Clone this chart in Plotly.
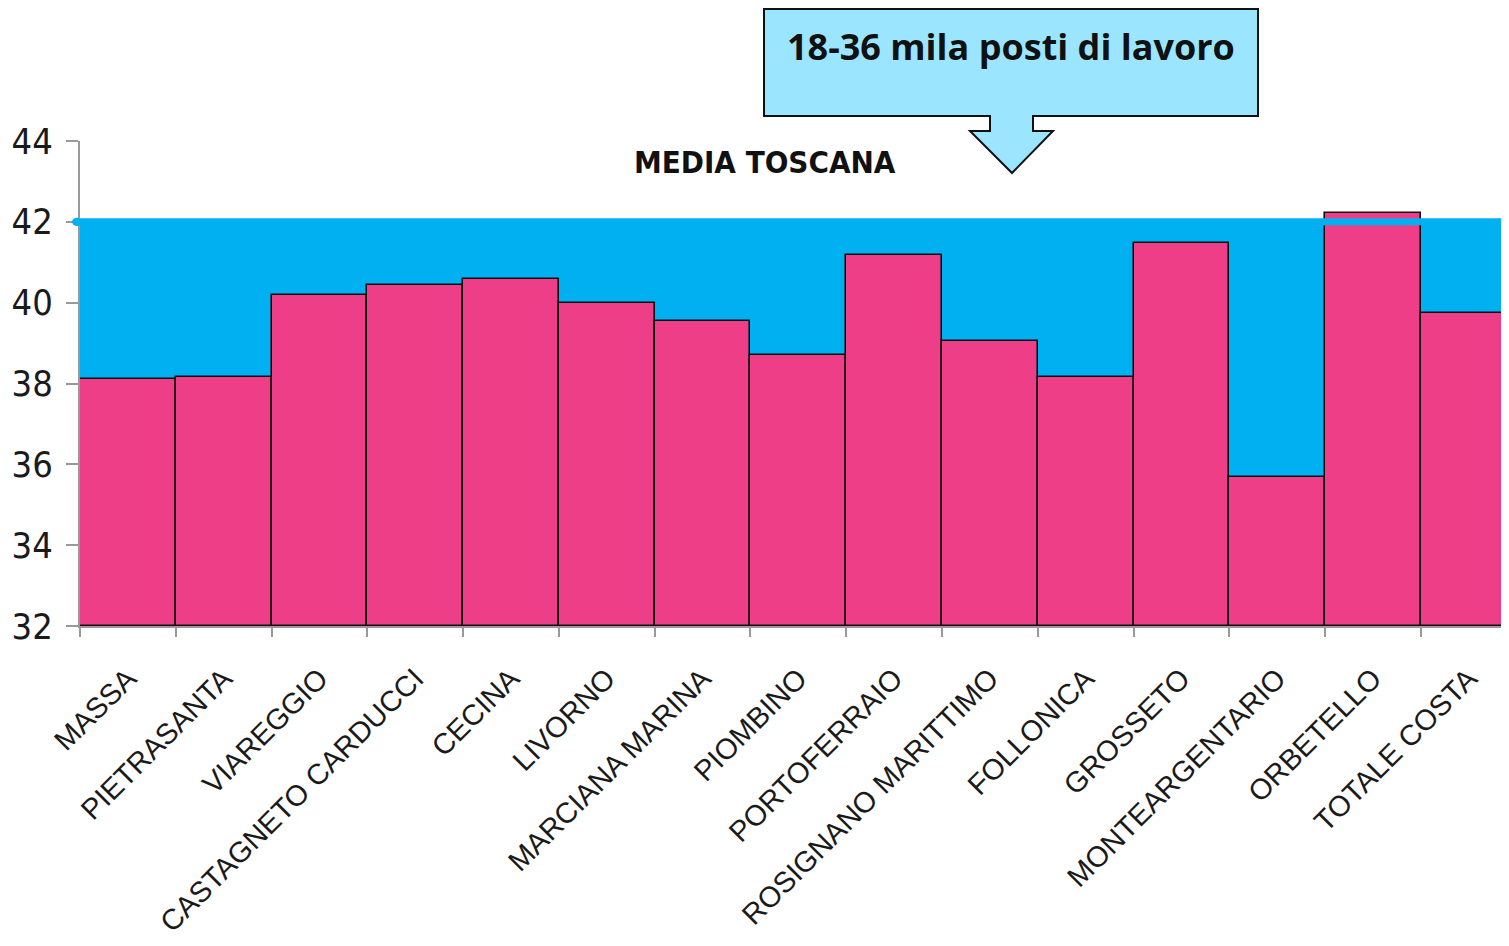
import plotly.graph_objects as go

# Comuni della costa toscana e valori
comuni = ["MASSA", "PIETRASANTA", "VIAREGGIO", "CASTAGNETO CARDUCCI", "CECINA",
          "LIVORNO", "MARCIANA MARINA", "PIOMBINO", "PORTOFERRAIO",
          "ROSIGNANO MARITTIMO", "FOLLONICA", "GROSSETO", "MONTEARGENTARIO",
          "ORBETELLO", "TOTALE COSTA"]
valori = [38.11, 38.16, 40.19, 40.44, 40.59, 39.99, 39.55, 38.71, 41.18,
          39.05, 38.16, 41.48, 35.69, 42.22, 39.74]
media_toscana = 42.0
y_ticks = [32, 34, 36, 38, 40, 42, 44]

# la pagina ha un margine di 8px attorno al grafico
W, H = 1501, 930
ML, MT, MB = 72, 133, 312
PW, PH = W - ML, H - MT - MB

pink = "#EF3E88"
blue = "#00B0F0"
narrow = "DejaVu Sans Condensed, Liberation Sans Narrow, Arial Narrow"


def px(x):
    return (x - 80) / PW


def py(y):
    return (626 - y) / PH


fig = go.Figure()

fig.add_trace(go.Bar(
    x=comuni, y=[v - 32 for v in valori], base=32,
    marker=dict(color=pink, line=dict(color="#111111", width=1.6)),
    showlegend=False, hoverinfo="skip",
))

shapes = []
# area media toscana (sotto le barre)
shapes.append(dict(type="rect", xref="paper", yref="y", x0=0, x1=1,
                   y0=32, y1=media_toscana, fillcolor=blue,
                   line=dict(width=0), layer="below"))
# linea media toscana (sopra le barre)
shapes.append(dict(type="line", xref="paper", yref="y", x0=0, x1=1,
                   y0=media_toscana, y1=media_toscana,
                   line=dict(color=blue, width=7), layer="above"))
shapes.append(dict(type="circle", xref="paper", yref="y",
                   x0=px(72), x1=px(82), y0=media_toscana - 0.1,
                   y1=media_toscana + 0.1, fillcolor=blue,
                   line=dict(width=0)))

# callout con freccia
pts = [(764, 9), (1258, 9), (1258, 116), (1033, 116), (1033, 131),
       (1053, 131), (1012, 173), (970, 131), (990, 131), (990, 116),
       (764, 116)]
path = "M " + " L ".join(f"{px(a):.5f},{py(b):.5f}" for a, b in pts) + " Z"
shapes.append(dict(type="path", xref="paper", yref="paper", path=path,
                   fillcolor="#9BE5FF", line=dict(color="#111111", width=2)))

fig.update_layout(
    width=W, height=H,
    margin=dict(l=ML, r=0, t=MT, b=MB),
    plot_bgcolor="white", paper_bgcolor="white",
    bargap=0,
    shapes=shapes,
    annotations=[
        dict(text="<b>18-36 mila posti di lavoro</b>", xref="paper", yref="paper",
             x=px(1011), y=py(46), xanchor="center", yanchor="middle",
             showarrow=False,
             font=dict(family="Open Sans", size=36, color="#111111")),
        dict(text="<b>MEDIA TOSCANA</b>", xref="paper", yref="paper",
             x=px(765), y=py(162), xanchor="center", yanchor="middle",
             showarrow=False,
             font=dict(family=narrow, size=31, color="#111111")),
    ],
    xaxis=dict(
        type="category", range=[-0.5, 14.42],
        showline=True, linecolor="#999999", linewidth=2,
        ticks="outside", tickson="boundaries", ticklen=9,
        tickcolor="#999999", tickwidth=2,
        tickangle=-45, ticklabelstandoff=22,
        tickfont=dict(family="Liberation Sans, Arial", size=29, color="#1a1a1a"),
        showgrid=False,
    ),
    yaxis=dict(
        range=[32, 44], tickvals=y_ticks,
        showline=True, linecolor="#999999", linewidth=2,
        ticks="outside", ticklen=12, tickcolor="#999999", tickwidth=2,
        ticklabelstandoff=6,
        tickfont=dict(family=narrow, size=36, color="#1a1a1a"),
        showgrid=False, zeroline=False,
    ),
)

fig.write_html("out.html")
